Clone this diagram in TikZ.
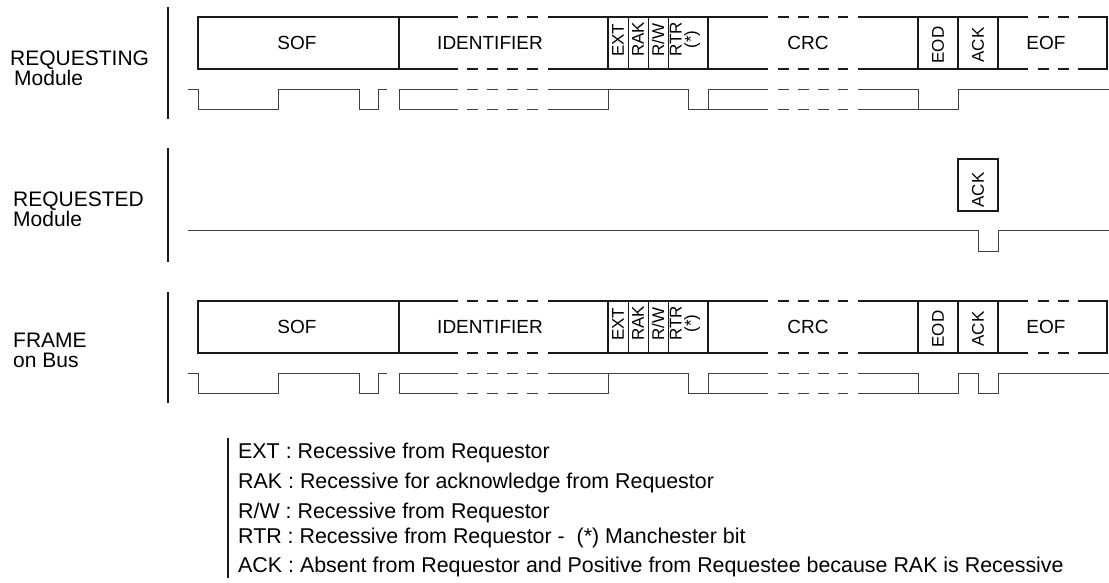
\documentclass[tikz,border=0pt]{standalone}
\usepackage{fontspec}
\setmainfont{Liberation Sans}
\usepackage{tikz}
\tikzstyle{boxline} = [line width=1.6pt, draw=black!90]
\tikzstyle{thinsep} = [line width=0.8pt, draw=black!90]
\tikzstyle{wave} = [line width=0.9pt, draw=black!75]
\tikzstyle{dashpart} = [dash pattern=on 11pt off 9pt]
\tikzstyle{bar} = [line width=2pt, draw=black!90]
\tikzstyle{field} = [inner sep=0pt, text=black, font=\fontsize{19}{19}\selectfont]
\tikzstyle{vfield} = [inner sep=0pt, text=black, rotate=90, font=\fontsize{17}{15}\selectfont]
\tikzstyle{rowlabel} = [inner sep=0pt, align=left, anchor=north west, text=black, font=\fontsize{21}{20}\selectfont]
\tikzstyle{legend} = [inner sep=0pt, anchor=base west, text=black, font=\fontsize{21.4}{21}\selectfont]

\begin{document}
\begin{tikzpicture}[x=1pt, y=-1pt]
		\useasboundingbox (0,0) rectangle (1109,583);
		% row labels and bars
		\node (rqlbl) [rowlabel] at (10,51) {REQUESTING\\\hspace*{4pt}Module};
		\node (rdlbl) [rowlabel] at (13,192) {REQUESTED\\Module};
		\node (fblbl) [rowlabel] at (13,333) {FRAME\\on Bus};
		\draw [bar] (168,7) -- (168,119);
		\draw [bar] (168,148) -- (168,262);
		\draw [bar] (168,292) -- (168,403);
		\draw [bar] (228,438) -- (228,578);
		% the frame, requesting module and bus
		\foreach \yy/\nm in {0/rq, 284/fb} {
			\begin{scope}[shift={(0,\yy)}]
				\draw [boxline] (458,17) -- (198,17) -- (198,69) -- (458,69);
				\draw [boxline] (548,17) -- (768,17) (858,17) -- (1028,17) (548,69) -- (768,69) (858,69) -- (1028,69);
				\draw [boxline] (1078,17) -- (1107,17) -- (1107,69) -- (1078,69);
				\draw [boxline, dashpart] (467,17) -- (538,17) (778,17) -- (848,17) (1038,17) -- (1069,17)
					(467,69) -- (538,69) (778,69) -- (848,69) (1038,69) -- (1069,69);
				\foreach \xx in {399,608,708,918,958,998} \draw [boxline] (\xx,17) -- (\xx,69);
				\foreach \xx in {628,648,668} \draw [thinsep] (\xx,17) -- (\xx,69);
				\node (sof\nm) [field] at (297,43) {SOF};
				\node (id\nm) [field] at (490,43) {IDENTIFIER};
				\node (ext\nm) [vfield, anchor=west] at (618,57) {EXT};
				\node (rak\nm) [vfield, anchor=west] at (638,57) {RAK};
				\node (rw\nm) [vfield, anchor=west] at (658,57) {R/W};
				\node (rtr\nm) [vfield, anchor=west, align=center] at (685,57) {RTR\\(*)};
				\node (crc\nm) [field] at (808,43) {CRC};
				\node (eod\nm) [vfield] at (938,45) {EOD};
				\node (ack\nm) [vfield] at (978,45) {ACK};
				\node (eof\nm) [field] at (1046,43) {EOF};
				% bit levels
				\draw [wave] (188,89) -- (198,89) -- (198,109) -- (278,109) -- (278,89) -- (359,89) -- (359,109) -- (378,109) -- (378,89) -- (387,89);
				\draw [wave] (458,89) -- (399,89) -- (399,109) -- (458,109);
				\draw [wave, dashpart] (467,89) -- (538,89) (467,109) -- (538,109) (778,89) -- (848,89) (778,109) -- (848,109);
				\draw [wave] (548,109) -- (608,109) -- (608,89);
				\draw [wave] (548,89) -- (688,89) -- (688,109) -- (708,109) -- (708,89) -- (768,89);
				\draw [wave] (708,109) -- (768,109);
				\draw [wave] (858,89) -- (918,89) -- (918,109);
				\draw [wave] (858,109) -- (958,109) -- (958,89) -- (978,89);
			\end{scope}
		}
		\draw [wave] (978,89) -- (1109,89);
		\draw [wave] (978,373) -- (978,393) -- (998,393) -- (998,373) -- (1109,373);
		% requested module
		\draw [boxline] (958,159) rectangle (998,211);
		\node (ackrd) [vfield] at (978,190) {ACK};
		\draw [wave] (188,230) -- (978,230) -- (978,251) -- (998,251) -- (998,230) -- (1109,230);
		% legend
		\node (lgext) [legend] at (238,458) {EXT : Recessive from Requestor};
		\node (lgrak) [legend] at (238,488) {RAK : Recessive for acknowledge from Requestor};
		\node (lgrw) [legend] at (238,518) {R/W : Recessive from Requestor};
		\node (lgrtr) [legend] at (238,543) {RTR : Recessive from Requestor - \ (*) Manchester bit};
		\node (lgack) [legend] at (238,572) {ACK : Absent from Requestor and Positive from Requestee because RAK is Recessive};
	\end{tikzpicture}
\end{document}
